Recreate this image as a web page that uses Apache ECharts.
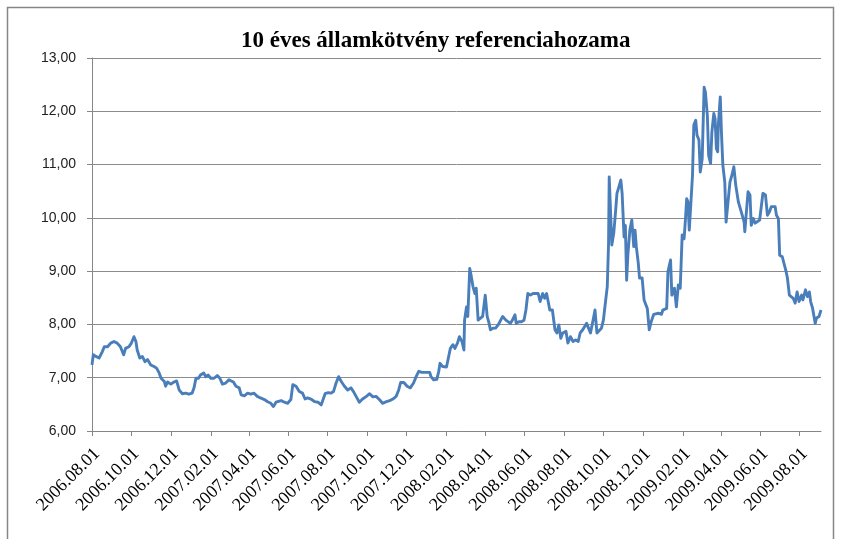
<!DOCTYPE html>
<html>
<head>
<meta charset="utf-8">
<script src="https://cdn.jsdelivr.net/npm/echarts@6/dist/echarts.min.js"></script>
<style>
html,body{margin:0;padding:0;background:#fff;}
#chart{width:848px;height:539px;}
</style>
</head>
<body>
<div id="chart"></div>
<script>
// Title
var chartTitle = '10 éves államkötvény referenciahozama';

// Tick labels shown on the x axis
var tickLabels = ['2006.08.01','2006.10.01','2006.12.01','2007.02.01','2007.04.01','2007.06.01',
  '2007.08.01','2007.10.01','2007.12.01','2008.02.01','2008.04.01','2008.06.01','2008.08.01',
  '2008.10.01','2008.12.01','2009.02.01','2009.04.01','2009.06.01','2009.08.01'];

// Axis range (calendar days)
var firstDay = '2006.08.01';
var lastDay = '2009.09.03';

var sampleDates = [
  '2006.08.01','2006.08.03','2006.08.07','2006.08.12','2006.08.17','2006.08.20','2006.08.25','2006.08.30',
  '2006.09.04','2006.09.09','2006.09.14','2006.09.19','2006.09.22','2006.09.27',
  '2006.10.01','2006.10.05','2006.10.08','2006.10.10','2006.10.14','2006.10.18','2006.10.22','2006.10.26','2006.10.31',
  '2006.11.05','2006.11.09','2006.11.13','2006.11.16','2006.11.21','2006.11.23','2006.11.26',
  '2006.12.01','2006.12.06','2006.12.10','2006.12.14','2006.12.19','2006.12.24','2006.12.29',
  '2007.01.03','2007.01.06','2007.01.09','2007.01.13','2007.01.16','2007.01.21','2007.01.24','2007.01.28',
  '2007.02.01','2007.02.06','2007.02.11','2007.02.15','2007.02.19','2007.02.24',
  '2007.03.01','2007.03.04','2007.03.08','2007.03.12','2007.03.17','2007.03.20','2007.03.25','2007.03.30',
  '2007.04.04','2007.04.09','2007.04.14','2007.04.19','2007.04.25','2007.04.30',
  '2007.05.05','2007.05.09','2007.05.13','2007.05.16','2007.05.21','2007.05.26','2007.05.31',
  '2007.06.05','2007.06.08','2007.06.13','2007.06.18','2007.06.23','2007.06.27',
  '2007.07.01','2007.07.06','2007.07.12','2007.07.17','2007.07.22','2007.07.25','2007.07.28',
  '2007.08.02','2007.08.06','2007.08.10','2007.08.14','2007.08.18','2007.08.22','2007.08.27',
  '2007.09.01','2007.09.06','2007.09.10','2007.09.14','2007.09.19','2007.09.24','2007.09.30',
  '2007.10.05','2007.10.10','2007.10.15','2007.10.20','2007.10.25','2007.10.31',
  '2007.11.05','2007.11.10','2007.11.15','2007.11.19','2007.11.22','2007.11.27',
  '2007.12.02','2007.12.07','2007.12.12','2007.12.16','2007.12.20','2007.12.25',
  '2008.01.01','2008.01.06','2008.01.08','2008.01.12','2008.01.17','2008.01.20','2008.01.22','2008.01.26',
  '2008.02.01','2008.02.04','2008.02.07','2008.02.11','2008.02.14','2008.02.18','2008.02.21','2008.02.25','2008.02.28','2008.02.29',
  '2008.03.03','2008.03.05','2008.03.08','2008.03.10','2008.03.13','2008.03.16','2008.03.18','2008.03.21','2008.03.24','2008.03.28',
  '2008.04.01','2008.04.04','2008.04.07','2008.04.09','2008.04.13','2008.04.17','2008.04.21','2008.04.24','2008.04.28',
  '2008.05.03','2008.05.06','2008.05.10','2008.05.13','2008.05.17','2008.05.19','2008.05.23','2008.05.27','2008.05.31',
  '2008.06.03','2008.06.06','2008.06.10','2008.06.14','2008.06.18','2008.06.22','2008.06.25','2008.06.29',
  '2008.07.02','2008.07.05','2008.07.07','2008.07.10','2008.07.14','2008.07.18','2008.07.21','2008.07.24','2008.07.27','2008.07.30',
  '2008.08.04','2008.08.07','2008.08.11','2008.08.15','2008.08.19','2008.08.23','2008.08.26','2008.08.30',
  '2008.09.02','2008.09.05','2008.09.08','2008.09.11','2008.09.15','2008.09.18','2008.09.21','2008.09.24','2008.09.28',
  '2008.10.01','2008.10.04','2008.10.07','2008.10.09','2008.10.10','2008.10.12','2008.10.14','2008.10.17','2008.10.20','2008.10.22','2008.10.25','2008.10.28','2008.10.30',
  '2008.11.02','2008.11.04','2008.11.06','2008.11.08','2008.11.11','2008.11.14','2008.11.17','2008.11.19','2008.11.21','2008.11.24','2008.11.26','2008.11.30',
  '2008.12.03','2008.12.08','2008.12.11','2008.12.14','2008.12.18','2008.12.25','2008.12.30',
  '2009.01.01','2009.01.07','2009.01.09','2009.01.13','2009.01.15','2009.01.19','2009.01.22','2009.01.25','2009.01.28','2009.01.31',
  '2009.02.03','2009.02.05','2009.02.07','2009.02.09','2009.02.11','2009.02.13','2009.02.16','2009.02.18','2009.02.21','2009.02.23','2009.02.26','2009.02.28',
  '2009.03.03','2009.03.06','2009.03.08','2009.03.11','2009.03.13','2009.03.16','2009.03.18','2009.03.21','2009.03.23','2009.03.25','2009.03.27','2009.03.28','2009.03.31',
  '2009.04.02','2009.04.04','2009.04.07','2009.04.09','2009.04.12','2009.04.15','2009.04.18','2009.04.21','2009.04.24','2009.04.26','2009.04.28',
  '2009.05.01','2009.05.04','2009.05.07','2009.05.08','2009.05.11','2009.05.13','2009.05.16','2009.05.18','2009.05.21','2009.05.24','2009.05.27','2009.05.31',
  '2009.06.03','2009.06.05','2009.06.09','2009.06.12','2009.06.15','2009.06.18','2009.06.21','2009.06.24','2009.06.26','2009.06.29',
  '2009.07.01','2009.07.05','2009.07.08','2009.07.11','2009.07.13','2009.07.16','2009.07.19','2009.07.22','2009.07.25','2009.07.28','2009.07.31',
  '2009.08.04','2009.08.06','2009.08.10','2009.08.13','2009.08.16','2009.08.18','2009.08.21','2009.08.25','2009.08.27','2009.08.31',
  '2009.09.03'
];

var yields = [
  7.24,7.43,7.40,7.37,7.49,7.58,7.58,7.65,
  7.68,7.65,7.58,7.43,7.55,7.58,
  7.65,7.77,7.68,7.52,7.37,7.40,7.30,7.34,7.24,
  7.21,7.18,7.09,6.99,6.93,6.84,6.92,
  6.88,6.92,6.94,6.77,6.70,6.71,6.69,
  6.71,6.81,6.99,6.99,7.05,7.09,7.02,7.05,
  6.99,6.99,7.04,6.99,6.88,6.90,
  6.96,6.99,6.92,6.84,6.81,6.68,6.66,6.71,
  6.69,6.71,6.65,6.62,6.59,6.55,
  6.52,6.46,6.54,6.52,6.57,6.54,6.52,
  6.59,6.87,6.84,6.74,6.71,6.60,
  6.62,6.60,6.55,6.54,6.49,6.46,6.70,
  6.72,6.71,6.74,6.90,7.02,6.93,6.84,
  6.77,6.81,6.74,6.65,6.54,6.60,6.65,
  6.70,6.64,6.65,6.59,6.52,6.55,
  6.57,6.60,6.65,6.77,6.91,6.91,
  6.84,6.81,6.90,7.02,7.12,7.10,
  7.10,7.10,7.02,6.96,6.97,7.12,7.27,7.21,
  7.20,7.20,7.55,7.62,7.55,7.65,7.77,7.68,7.52,8.08,
  8.33,8.15,9.05,8.93,8.71,8.58,8.68,8.08,8.05,8.15,
  8.55,8.15,8.02,7.90,7.93,7.93,7.99,8.02,8.15,
  8.08,8.08,8.02,8.08,8.18,8.02,8.05,8.05,8.08,
  8.27,8.58,8.55,8.58,8.58,8.58,8.43,8.58,
  8.49,8.58,8.46,8.27,8.27,7.90,7.84,7.99,7.74,7.84,
  7.87,7.65,7.77,7.68,7.71,7.68,7.84,7.90,
  7.87,8.02,7.93,7.84,8.08,8.27,7.84,7.84,7.93,
  8.08,8.40,8.71,9.52,10.77,10.14,9.49,9.71,10.14,10.46,10.58,10.71,10.46,
  9.64,9.86,8.83,9.33,9.77,9.96,9.46,9.77,9.46,9.15,8.87,8.87,
  8.46,8.30,7.90,8.05,8.19,8.21,8.19,
  8.27,8.30,8.99,9.21,8.55,8.68,8.33,8.74,8.68,9.68,
  9.61,9.96,10.36,10.30,9.77,10.18,10.80,11.74,11.83,11.55,11.46,10.86,
  11.11,12.45,12.36,11.92,11.17,11.02,11.61,11.96,11.86,11.30,11.24,11.74,12.27,
  11.55,10.99,10.67,9.92,10.30,10.67,10.80,10.96,10.61,10.58,10.30,
  10.27,10.05,9.92,9.74,9.71,10.49,10.43,9.86,9.99,9.90,9.92,9.96,
  9.99,10.46,10.43,10.05,10.11,10.21,10.18,10.21,10.05,9.99,
  9.30,9.27,9.30,8.99,8.87,8.55,8.58,8.49,8.40,8.61,8.43,
  8.55,8.46,8.65,8.52,8.61,8.43,8.30,8.02,8.12,8.15,
  8.27
];

// Y axis ticks
var yMin = 6, yMax = 13, yStep = 1;

// ---- build calendar-day categories ----
function parseDay(s){ var p = s.split('.'); return Date.UTC(+p[0], +p[1]-1, +p[2]); }
function fmtDay(t){
  var d = new Date(t);
  var m = d.getUTCMonth()+1, dd = d.getUTCDate();
  return d.getUTCFullYear() + '.' + (m<10?'0':'') + m + '.' + (dd<10?'0':'') + dd;
}
var categories = [];
for (var t = parseDay(firstDay); t <= parseDay(lastDay); t += 86400000) categories.push(fmtDay(t));

var valueByDate = {};
for (var i = 0; i < sampleDates.length; i++) valueByDate[sampleDates[i]] = yields[i];
var seriesData = categories.map(function(c){ return valueByDate.hasOwnProperty(c) ? valueByDate[c] : null; });
if (sampleDates.length !== yields.length) console.error('length mismatch', sampleDates.length, yields.length);

var tickSet = {};
tickLabels.forEach(function(s){ tickSet[s] = true; });
function showTick(idx, val){ return !!tickSet[val]; }

var chart = echarts.init(document.getElementById('chart'), null, {renderer: 'canvas'});
chart.setOption({
  animation: false,
  backgroundColor: '#ffffff',
  title: {
    text: chartTitle,
    left: 236,
    top: 25,
    textStyle: { fontFamily: 'Liberation Serif', fontWeight: 'bold', fontSize: 23, color: '#000' }
  },
  graphic: [{
    type: 'rect',
    shape: { x: 7.5, y: 7.5, width: 826, height: 560 },
    style: { fill: 'none', stroke: '#868686', lineWidth: 1.5 },
    silent: true, z: -1
  }],
  grid: { left: 92, right: 27, top: 58, bottom: 108, containLabel: false },
  xAxis: {
    type: 'category',
    data: categories,
    boundaryGap: false,
    axisLine: { show: true, lineStyle: { color: '#868686', width: 1 } },
    axisTick: { show: true, interval: showTick, length: 5, lineStyle: { color: '#868686' } },
    axisLabel: {
      interval: showTick, rotate: 45, margin: 15, verticalAlign: 'top', lineHeight: 14,
      fontFamily: 'Liberation Serif', fontSize: 18, color: '#000'
    },
    splitLine: { show: false }
  },
  yAxis: {
    type: 'value',
    min: yMin, max: yMax, interval: yStep,
    axisLine: { show: true, lineStyle: { color: '#868686', width: 1 } },
    axisTick: { show: true, length: 5, lineStyle: { color: '#868686' } },
    axisLabel: {
      margin: 16, fontFamily: 'Liberation Sans', fontSize: 14, color: '#222',
      formatter: function(v){ return v.toFixed(2).replace('.', ','); }
    },
    splitLine: { show: true, lineStyle: { color: '#8c8c8c', width: 1 } }
  },
  series: [{
    type: 'line',
    data: seriesData,
    connectNulls: true,
    showSymbol: false,
    symbol: 'none',
    sampling: null,
    lineStyle: { color: '#4a7ebb', width: 2.9, join: 'round' },
    itemStyle: { color: '#4a7ebb' }
  }]
});
</script>
</body>
</html>
